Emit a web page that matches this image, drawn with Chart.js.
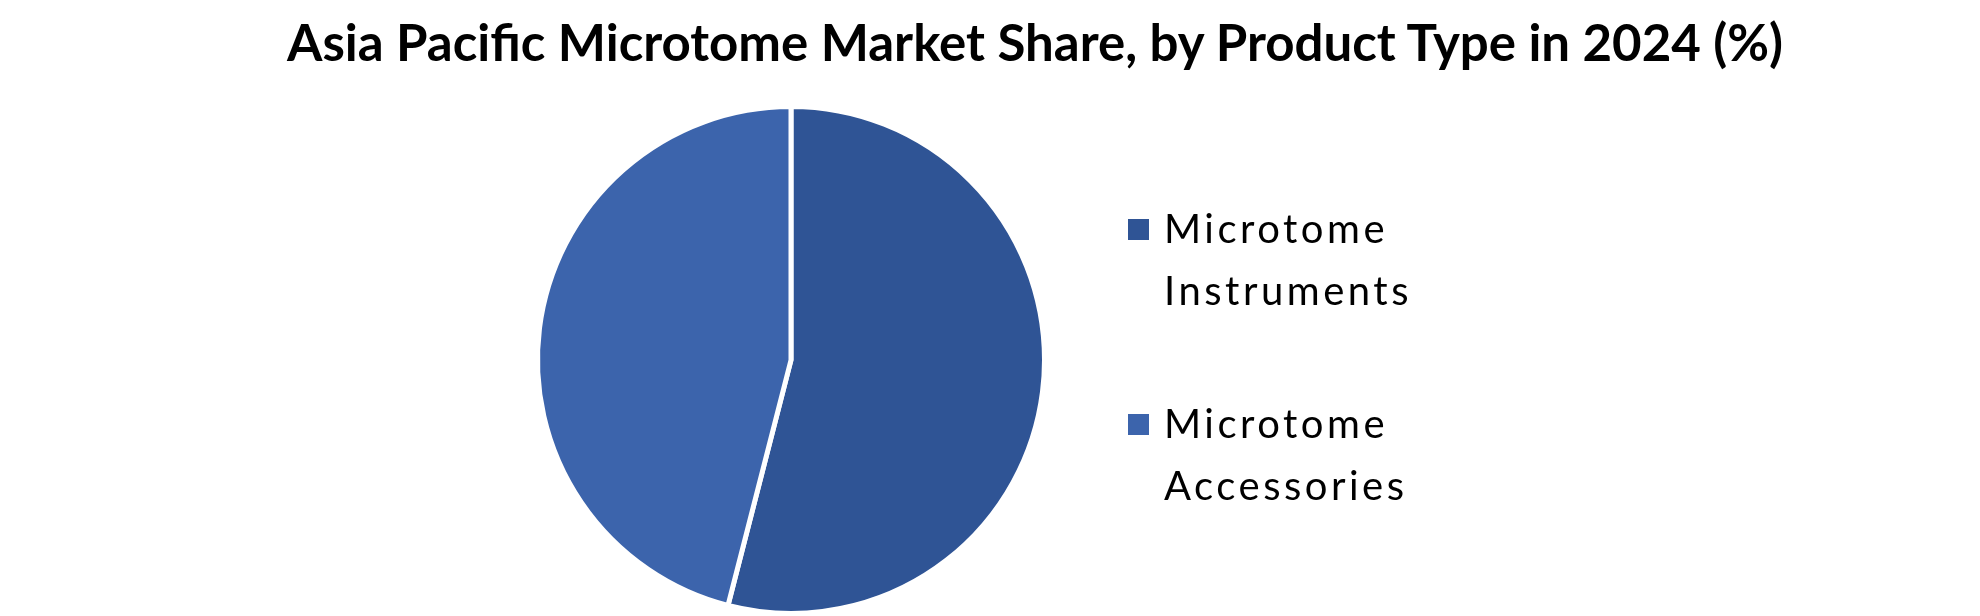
<!DOCTYPE html>
<html>
<head>
<meta charset="utf-8">
<script src="https://cdn.jsdelivr.net/npm/chart.js@4"></script>
<style>
  html, body { margin: 0; padding: 0; background: #fff; }
  #wrap { position: relative; width: 1980px; height: 616px; overflow: hidden; }
  #chart { position: absolute; left: 0; top: 0; }
  #title { position: absolute; left: 0; top: 11px; width: 2070px; text-align: center;
           font-family: Lato, sans-serif; font-weight: 700; font-size: 51px; line-height: 61px; color: #000; white-space: nowrap; }
  .leg { position: absolute; left: 1128px; font-family: Lato, sans-serif; font-size: 40px; line-height: 62px; letter-spacing: 3.5px; color: #000; }
  .leg .box { position: absolute; left: 0; width: 21px; height: 21px; }
  .leg .txt { position: absolute; left: 36px; white-space: nowrap; }
</style>
</head>
<body>
<div id="wrap">
  <canvas id="chart" width="1980" height="616"></canvas>
  <div id="title"></div>
  <div id="legend"></div>
</div>
<script>
const chartTitle = "Asia Pacific Microtome Market Share, by Product Type in 2024 (%)";
const categories = [["Microtome", "Instruments"], ["Microtome", "Accessories"]];
const shares = [54, 46];
const colors = ["#2F5495", "#3C64AC"];

document.getElementById('title').textContent = chartTitle;

const legend = document.getElementById('legend');
const legTops = [196.5, 391.5];
categories.forEach((lines, i) => {
  const d = document.createElement('div');
  d.className = 'leg';
  d.style.top = legTops[i] + 'px';
  const b = document.createElement('div');
  b.className = 'box';
  b.style.background = colors[i];
  b.style.top = '22.5px';
  const t = document.createElement('div');
  t.className = 'txt';
  t.innerHTML = lines.map(s => s.replace(/&/g,'&amp;').replace(/</g,'&lt;')).join('<br>');
  d.appendChild(b); d.appendChild(t);
  legend.appendChild(d);
});

new Chart(document.getElementById('chart'), {
  type: 'pie',
  data: {
    labels: categories.map(l => l.join(' ')),
    datasets: [{
      data: shares,
      backgroundColor: colors,
      borderColor: '#ffffff',
      borderWidth: 5
    }]
  },
  options: {
    responsive: false,
    animation: false,
    layout: { padding: { top: 104, bottom: 0, left: 535, right: 933 } },
    plugins: { legend: { display: false }, tooltip: { enabled: false }, title: { display: false } }
  }
});
</script>
</body>
</html>
